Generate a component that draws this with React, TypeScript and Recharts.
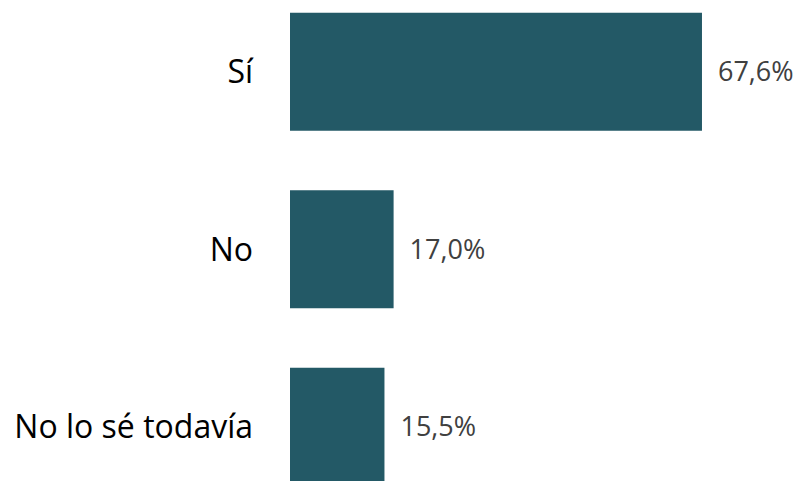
import React from 'react';
import { BarChart, Bar, XAxis, YAxis, LabelList } from 'recharts';

const categories = ['Sí', 'No', 'No lo sé todavía'];
const values = [67.6, 17.0, 15.5];

const data = categories.map((c, i) => ({ name: c, value: values[i] }));

const fmt = (v: number) => v.toFixed(1).replace('.', ',') + '%';

export default function App() {
  return (
    <div style={{ position: 'absolute', left: 0, top: -16.75 }}>
      <BarChart
        width={799}
        height={532.5}
        data={data}
        layout="vertical"
        margin={{ top: 0, right: 0, bottom: 0, left: 0 }}
        barCategoryGap="16.76%"
      >
        <XAxis type="number" domain={[0, 83.52]} hide />
        <YAxis
          type="category"
          dataKey="name"
          width={290}
          axisLine={false}
          tickLine={false}
          tickSize={0}
          tickMargin={37}
          tick={{ fill: '#000000', fontSize: 32, fontFamily: 'Open Sans' }}
        />
        <Bar dataKey="value" fill="#235966" isAnimationActive={false}>
          <LabelList
            dataKey="value"
            position="right"
            offset={16}
            formatter={(v: any) => fmt(Number(v))}
            style={{ fill: '#404040', fontSize: 27, fontFamily: 'Open Sans' }}
          />
        </Bar>
      </BarChart>
    </div>
  );
}
